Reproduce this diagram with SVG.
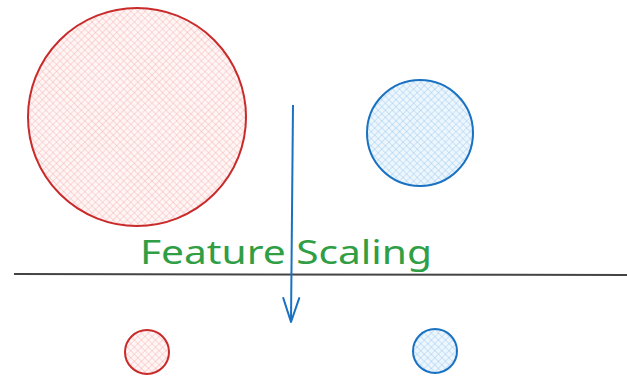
<svg xmlns="http://www.w3.org/2000/svg" width="627" height="376" viewBox="0 0 627 376">
<style>
.red{stroke:#c92a2a;stroke-width:2;fill:url(#hr)}
.blue{stroke:#1971c2;stroke-width:2;fill:url(#hb)}
.lbl{font-family:"Comic Sans MS","Noto Sans",sans-serif;font-size:32px;fill:#2f9e44}
</style>
<defs>
<pattern id="hr" width="5" height="5" patternUnits="userSpaceOnUse" patternTransform="rotate(45)">
<rect width="5" height="5" fill="#fff5f5"/>
<path d="M0 0H5M0 0V5" stroke="#f2a9a9" stroke-width="0.8"/>
</pattern>
<pattern id="hb" width="5" height="5" patternUnits="userSpaceOnUse" patternTransform="rotate(45)">
<rect width="5" height="5" fill="#eef6fd"/>
<path d="M0 0H5M0 0V5" stroke="#8fc3ee" stroke-width="0.8"/>
</pattern>
<marker id="ah" markerWidth="30" markerHeight="20" refX="26" refY="10" orient="auto" markerUnits="userSpaceOnUse" viewBox="0 0 30 20">
<path d="M2 2L26 10L2 18" fill="none" stroke="#1971c2" stroke-width="2" stroke-linecap="round" stroke-linejoin="round"/>
</marker>
</defs>
<g id="big-red"><circle class="red" cx="137" cy="117" r="109"/></g>
<g id="big-blue"><circle class="blue" cx="420" cy="133" r="53"/></g>
<g id="small-red"><circle class="red" cx="147" cy="352" r="22"/></g>
<g id="small-blue"><circle class="blue" cx="435" cy="351" r="22"/></g>
<g id="connectors">
<line x1="14" y1="274" x2="627" y2="275" stroke="#444" stroke-width="2"/>
<path d="M293 105L291 322" stroke="#1971c2" stroke-width="2" fill="none" marker-end="url(#ah)"/>
</g>
<g id="label"><text class="lbl" x="140" y="264" textLength="292" lengthAdjust="spacingAndGlyphs">Feature Scaling</text></g>
</svg>
